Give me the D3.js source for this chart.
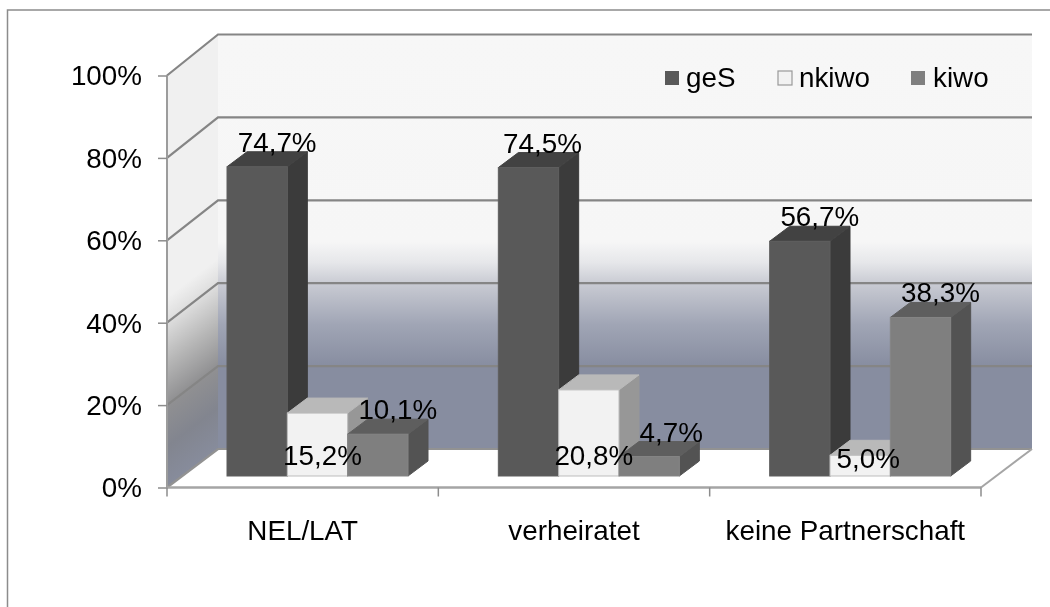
<!DOCTYPE html>
<html>
<head>
<meta charset="utf-8">
<script src="https://cdn.jsdelivr.net/npm/d3@7"></script>
<style>
    html, body { margin: 0; padding: 0; background: #fff; overflow: hidden; }
    svg { display: block; filter: blur(0.45px); }
    text { font-family: "Liberation Sans", Arial, sans-serif; font-size: 27.8px; fill: #000; }
</style>
</head>
<body>
<div id="chart"></div>
<script>
const categories = ["NEL/LAT", "verheiratet", "keine Partnerschaft"];
const seriesNames = ["geS", "nkiwo", "kiwo"];
const geS = [74.7, 74.5, 56.7];
const nkiwo = [15.2, 20.8, 5.0];
const kiwo = [10.1, 4.7, 38.3];
const yTicks = [0, 20, 40, 60, 80, 100];

const width = 1050, height = 607;
const depthX = 51, depthY = 39;     // chart floor depth
const barDepthX = 20, barDepthY = 15;

const colors = {
    geS: { front: "#595959", side: "#3b3b3b", top: "#424242", stroke: "#5f5f5f" },
    nkiwo: { front: "#f2f2f2", side: "#979797", top: "#b9b9b9", stroke: "#bdbdbd" },
    kiwo: { front: "#7f7f7f", side: "#535353", top: "#5e5e5e", stroke: "#858585" }
};

const rows = categories.map((c, i) => ({ category: c, geS: geS[i], nkiwo: nkiwo[i], kiwo: kiwo[i] }));

const svg = d3.select("#chart").append("svg")
    .attr("width", width)
    .attr("height", height);

// outer frame, runs off the right and bottom of the picture
svg.append("rect")
    .attr("x", 7.5).attr("y", 10)
    .attr("width", width + 20).attr("height", height + 20)
    .attr("fill", "#fff")
    .attr("stroke", "#8c8c8c")
    .attr("stroke-width", 1.5);

const x = d3.scaleBand().domain(categories).range([167, 981]);
const xBar = d3.scaleBand().domain(seriesNames).range([60, 241]);
const y = d3.scaleLinear().domain([0, 100]).range([487.5, 75.5]);
const yBack = d3.scaleLinear().domain([0, 100]).range([449, 34.5]);
const yBar = d3.scaleLinear().domain([0, 100]).range([476, 62]);

const [x0, x1] = x.range();
const backX0 = x0 + depthX, backX1 = x1 + depthX;

const defs = svg.append("defs");

const backGrad = defs.append("linearGradient")
    .attr("id", "backGrad")
    .attr("gradientUnits", "userSpaceOnUse")
    .attr("x1", 0).attr("x2", 0)
    .attr("y1", yBack(100)).attr("y2", yBack(0));
[[0, "#f7f7f7"], [0.5, "#f6f6f6"], [0.55, "#e6e7ea"], [0.6, "#c9cbd3"], [0.7, "#a0a5b5"], [0.8, "#878da0"], [1, "#878da0"]]
    .forEach(s => backGrad.append("stop").attr("offset", s[0]).attr("stop-color", s[1]));

// side wall gradient follows the skew of the wall
const wallSpan = yBack(0) - yBack(100);
const t = wallSpan * depthX / (depthX * depthX + depthY * depthY);
const sideGrad = defs.append("linearGradient")
    .attr("id", "sideGrad")
    .attr("gradientUnits", "userSpaceOnUse")
    .attr("x1", backX0).attr("y1", yBack(100))
    .attr("x2", backX0 + t * depthY).attr("y2", yBack(100) + t * depthX);
[[0, "#f0f0f0"], [0.54, "#f0f0f0"], [0.6, "#dedede"], [0.7, "#b6b6b6"], [0.8, "#909092"], [0.9, "#82858f"], [1, "#878c9c"]]
    .forEach(s => sideGrad.append("stop").attr("offset", s[0]).attr("stop-color", s[1]));

const poly = pts => pts.map(p => p.join(",")).join(" ");

// floor and walls
svg.append("polygon")
    .attr("points", poly([[x0, y(0)], [x1, y(0)], [backX1, yBack(0)], [backX0, yBack(0)]]))
    .attr("fill", "#fff");
svg.append("rect")
    .attr("x", backX0).attr("y", yBack(100))
    .attr("width", backX1 - backX0).attr("height", yBack(0) - yBack(100))
    .attr("fill", "url(#backGrad)");
svg.append("polygon")
    .attr("points", poly([[x0, y(0)], [backX0, yBack(0)], [backX0, yBack(100)], [x0, y(100)]]))
    .attr("fill", "url(#sideGrad)");

// gridlines on both walls
const grid = svg.append("g").attr("fill", "none");
grid.selectAll("polyline")
    .data(yTicks)
    .join("polyline")
    .attr("points", d => poly([[x0, y(d)], [backX0, yBack(d)], [backX1, yBack(d)]]))
    .attr("stroke", d => d === 0 ? "#929292" : "#858585")
    .attr("stroke-width", 2.2);

// floor edges
svg.append("line")
    .attr("x1", x1).attr("y1", y(0))
    .attr("x2", backX1).attr("y2", yBack(0))
    .attr("stroke", "#a5a5a5")
    .attr("stroke-width", 2);
svg.append("line")
    .attr("x1", x0).attr("y1", y(100))
    .attr("x2", x0).attr("y2", y(0))
    .attr("stroke", "#9c9c9c")
    .attr("stroke-width", 2);

// y axis
const yAxis = svg.append("g")
    .attr("transform", `translate(${x0},0)`)
    .call(d3.axisLeft(y).tickValues(yTicks).tickSize(9).tickPadding(16).tickFormat(d => d + "%"));
yAxis.select(".domain").remove();
yAxis.selectAll(".tick line").attr("stroke", "#8c8c8c").attr("stroke-width", 1.5);
yAxis.selectAll(".tick text").attr("dy", "0.34em").style("font-size", "27.8px").style("font-family", null);

// x axis, ticks sit on the band edges
const xAxis = svg.append("g")
    .attr("transform", `translate(0,${y(0)})`)
    .call(d3.axisBottom(x).tickSize(0).tickPadding(33));
xAxis.select(".domain").remove();
xAxis.selectAll("text").style("font-size", "27.8px").style("font-family", null);
svg.append("line")
    .attr("x1", x0).attr("x2", x1)
    .attr("y1", y(0)).attr("y2", y(0))
    .attr("stroke", "#a5a5a5")
    .attr("stroke-width", 2.6);
svg.append("g").selectAll("line")
    .data(categories.map(c => x(c)).concat(x1))
    .join("line")
    .attr("x1", d => d).attr("x2", d => d)
    .attr("y1", y(0)).attr("y2", y(0) + 9)
    .attr("stroke", "#8c8c8c")
    .attr("stroke-width", 1.5);

// bars, painted left to right so neighbours hide the side faces
const bars = rows.flatMap(r => seriesNames.map(s => ({ category: r.category, series: s, value: r[s] })));
const barG = svg.append("g").selectAll("g")
    .data(bars)
    .join("g")
    .attr("stroke-width", 1);

barG.append("polygon")
    .attr("points", d => {
        const xr = x(d.category) + xBar(d.series) + xBar.bandwidth();
        return poly([[xr, yBar(d.value)], [xr + barDepthX, yBar(d.value) - barDepthY],
            [xr + barDepthX, yBar(0) - barDepthY], [xr, yBar(0)]]);
    })
    .attr("fill", d => colors[d.series].side)
    .attr("stroke", d => colors[d.series].side);
barG.append("polygon")
    .attr("points", d => {
        const xl = x(d.category) + xBar(d.series), xr = xl + xBar.bandwidth();
        return poly([[xl, yBar(d.value)], [xr, yBar(d.value)],
            [xr + barDepthX, yBar(d.value) - barDepthY], [xl + barDepthX, yBar(d.value) - barDepthY]]);
    })
    .attr("fill", d => colors[d.series].top)
    .attr("stroke", d => colors[d.series].top);
barG.append("rect")
    .attr("x", d => x(d.category) + xBar(d.series))
    .attr("y", d => yBar(d.value))
    .attr("width", xBar.bandwidth())
    .attr("height", d => yBar(0) - yBar(d.value))
    .attr("fill", d => colors[d.series].front)
    .attr("stroke", d => colors[d.series].stroke);

// value labels, the white bars carry theirs down near the floor
const percent = d3.format(".1f");
const geSLabelDx = [0, -6, 0];
const kiwoLabelDx = [0, 2, 0];
const nkiwoLabelDy = [-11, -11, -8];
const nkiwoLabelDx = [5, 5, 8];
svg.append("g").selectAll("text")
    .data(bars)
    .join("text")
    .attr("text-anchor", "middle")
    .attr("x", d => {
        const cx = x(d.category) + xBar(d.series) + xBar.bandwidth() / 2;
        const i = categories.indexOf(d.category);
        if (d.series === "nkiwo") return cx + nkiwoLabelDx[i];
        return cx + barDepthX + (d.series === "geS" ? geSLabelDx[i] : kiwoLabelDx[i]);
    })
    .attr("y", d => d.series === "nkiwo"
        ? yBar(0) + nkiwoLabelDy[categories.indexOf(d.category)]
        : yBar(d.value) - barDepthY)
    .text(d => percent(d.value).replace(".", ",") + "%");

// legend
const legendX = d3.scaleOrdinal().domain(seriesNames).range([665, 778, 911]);
const legend = svg.append("g").selectAll("g")
    .data(seriesNames)
    .join("g")
    .attr("transform", d => `translate(${legendX(d)},71)`);
legend.append("rect")
    .attr("width", 14).attr("height", 14)
    .attr("fill", d => colors[d].front)
    .attr("stroke", d => d === "nkiwo" ? "#999" : "none")
    .attr("stroke-width", 1.2);
legend.append("text")
    .attr("x", d => d === "kiwo" ? 22 : 21)
    .attr("y", 16)
    .text(d => d);
</script>
</body>
</html>
